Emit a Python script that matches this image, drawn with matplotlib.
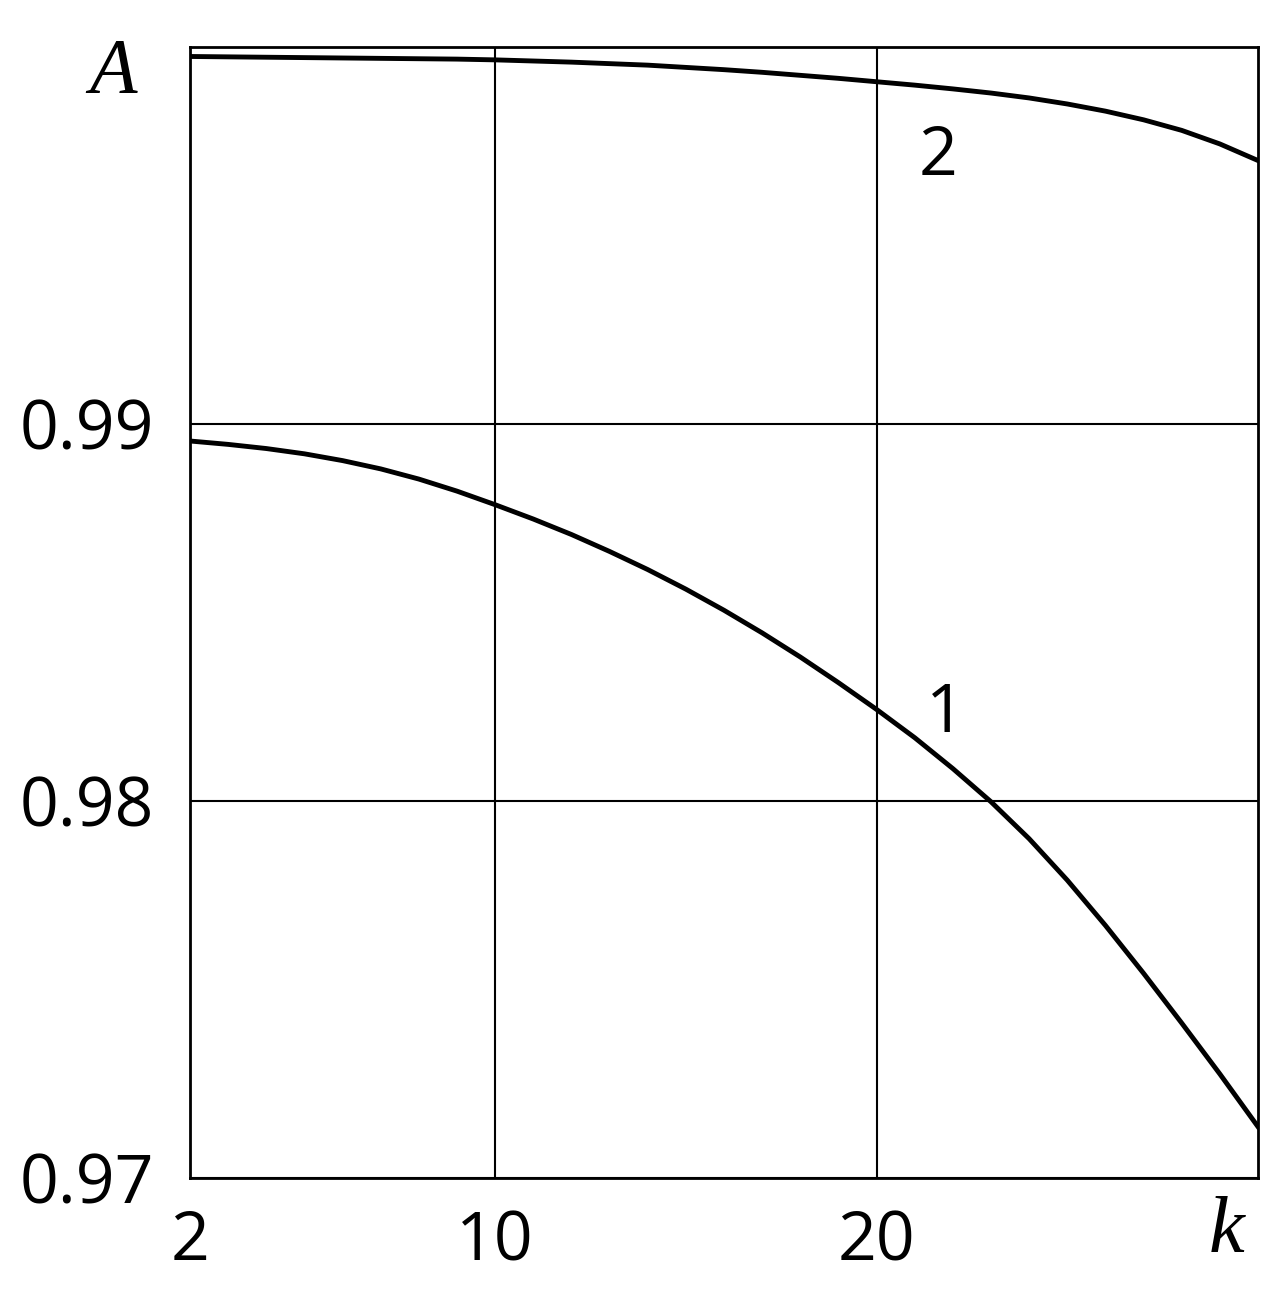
import matplotlib
matplotlib.use('Agg')
from matplotlib import pyplot as plt

# values
k = list(range(2, 31))
a_curve1 = [0.98955, 0.98946, 0.98935, 0.98921, 0.98903, 0.98881, 0.98854, 0.98822,
            0.98786, 0.98748, 0.98707, 0.98662, 0.98614, 0.98562, 0.98506, 0.98446,
            0.98382, 0.98314, 0.98243, 0.98168, 0.98086, 0.97998, 0.97900, 0.97790,
            0.97670, 0.97543, 0.97411, 0.97276, 0.97136]
a_curve2 = [0.99975, 0.99974, 0.99973, 0.99972, 0.99971, 0.99970, 0.99969, 0.99968,
            0.99966, 0.99963, 0.99960, 0.99956, 0.99952, 0.99946, 0.99940, 0.99933,
            0.99925, 0.99917, 0.99908, 0.99899, 0.99889, 0.99878, 0.99865, 0.99849,
            0.99830, 0.99807, 0.99779, 0.99743, 0.99699]
x_ticks = [2, 10, 20]
x_ticklabels = ['2', '10', '20']
y_ticks = [0.97, 0.98, 0.99]
y_ticklabels = ['0.97', '0.98', '0.99']

plt.rcParams['font.family'] = ['Open Sans', 'DejaVu Sans']

fig = plt.figure(figsize=(12.83, 13.07), dpi=100)
ax = fig.add_axes([0.1481, 0.0987, 0.9805 - 0.1481, 0.964 - 0.0987])

ax.plot(k, a_curve1, color='k', linewidth=3.5, solid_joinstyle='round')
ax.plot(k, a_curve2, color='k', linewidth=3.5, solid_joinstyle='round')

ax.set_xlim(2, 30)
ax.set_ylim(0.97, 1.0)
ax.set_xticks(x_ticks)
ax.set_xticklabels(x_ticklabels)
ax.set_yticks(y_ticks)
ax.set_yticklabels(y_ticklabels)
ax.tick_params(axis='both', length=0, labelsize=49)
ax.tick_params(axis='x', pad=22)
ax.tick_params(axis='y', pad=26)
ax.grid(True, color='k', linewidth=1.5)
ax.set_axisbelow(True)
for s in ax.spines.values():
    s.set_linewidth(2)

# curve labels
ax.text(21.8, 0.9823, '1', fontsize=49, ha='center', va='center')
ax.text(21.6, 0.99707, '2', fontsize=49, ha='center', va='center')

# axis letters
fig.text(113 / 1283, 1 - 73 / 1307, 'A', fontsize=56, family='Liberation Serif',
         style='italic', ha='center', va='center')
fig.text(1227 / 1283, 1 - 1232 / 1307, 'k', fontsize=58, family='Liberation Serif',
         style='italic', ha='center', va='center')

plt.savefig('out.png', dpi=100)
